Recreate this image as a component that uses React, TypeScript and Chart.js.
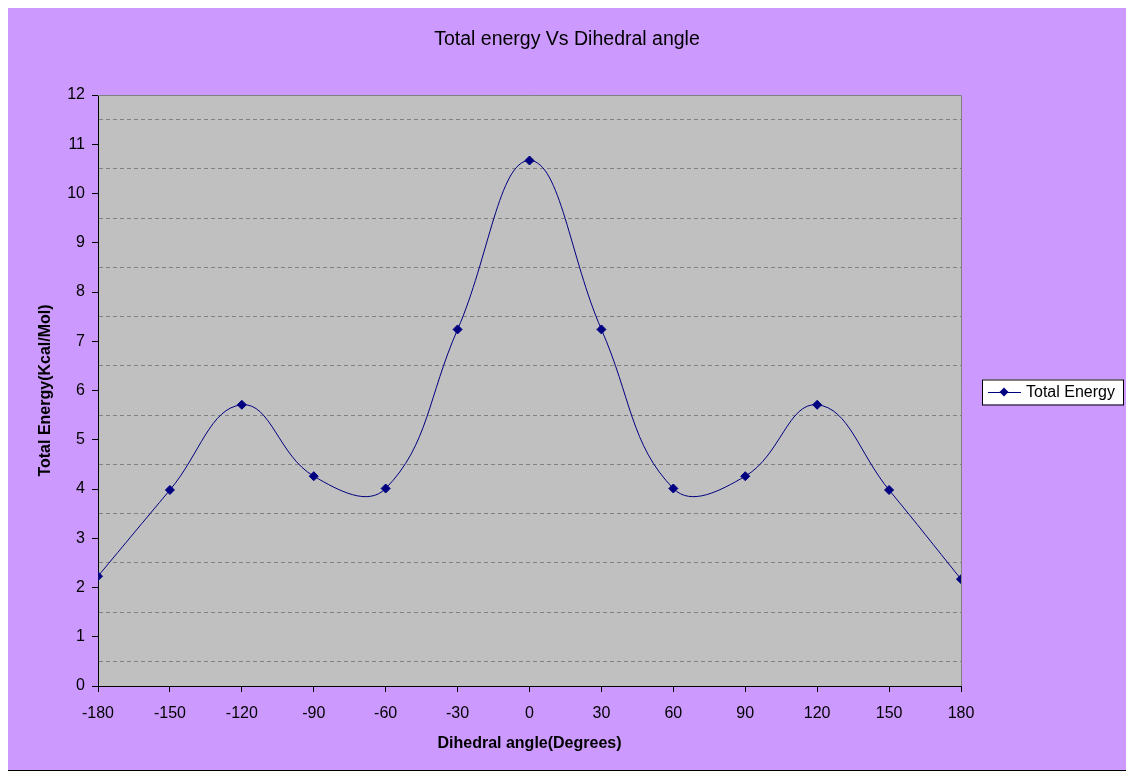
import React, { useEffect, useRef } from 'react';
import { Chart, ChartConfiguration, Plugin, registerables } from 'chart.js';

Chart.register(...registerables);

const angles = [-180, -150, -120, -90, -60, -30, 0, 30, 60, 90, 120, 150, 180];
const totalEnergy = [2.23, 3.98, 5.71, 4.26, 4.01, 7.24, 10.67, 7.24, 4.01, 4.26, 5.71, 3.98, 2.17];
const seriesLabel = 'Total Energy';
const chartTitle = 'Total energy Vs Dihedral angle';
const xTitle = 'Dihedral angle(Degrees)';
const yTitle = 'Total Energy(Kcal/Mol)';

const FONT = 'Arial, "Liberation Sans", sans-serif';
const NAVY = '#000080';

// grey plot area + grey frame on top/right, like Excel
const plotArea: Plugin = {
  id: 'plotArea',
  beforeDraw(chart) {
    const { ctx, chartArea: a } = chart;
    ctx.save();
    ctx.fillStyle = '#C0C0C0';
    ctx.fillRect(a.left, a.top, a.right - a.left, a.bottom - a.top);
    ctx.restore();
  },
  afterDraw(chart) {
    const { ctx, chartArea: a } = chart;
    ctx.save();
    ctx.strokeStyle = '#808080';
    ctx.lineWidth = 1;
    ctx.beginPath();
    ctx.moveTo(a.left, Math.round(a.top) + 0.5);
    ctx.lineTo(Math.round(a.right) + 0.5, Math.round(a.top) + 0.5);
    ctx.lineTo(Math.round(a.right) + 0.5, a.bottom);
    ctx.stroke();
    ctx.restore();
  },
};

// boxed legend on the right
const boxLegend: Plugin = {
  id: 'boxLegend',
  afterDraw(chart) {
    const { ctx, chartArea: a } = chart;
    const ds = chart.data.datasets[0];
    const x = Math.round(a.right) + 21;
    const cy = Math.round((a.top + a.bottom) / 2) + 1;
    const w = 141;
    const h = 25;
    ctx.save();
    ctx.fillStyle = '#ffffff';
    ctx.fillRect(x, cy - h / 2, w, h);
    ctx.strokeStyle = '#000000';
    ctx.lineWidth = 1;
    ctx.strokeRect(x + 0.5, cy - h / 2 + 0.5, w, h);
    ctx.strokeStyle = NAVY;
    ctx.beginPath();
    ctx.moveTo(x + 6, cy + 0.5);
    ctx.lineTo(x + 39, cy + 0.5);
    ctx.stroke();
    ctx.fillStyle = NAVY;
    ctx.beginPath();
    ctx.moveTo(x + 22, cy - 4.5);
    ctx.lineTo(x + 26.5, cy);
    ctx.lineTo(x + 22, cy + 4.5);
    ctx.lineTo(x + 17.5, cy);
    ctx.closePath();
    ctx.fill();
    ctx.fillStyle = '#000000';
    ctx.font = `16px ${FONT}`;
    ctx.textBaseline = 'middle';
    ctx.fillText(String(ds.label), x + 44, cy + 1);
    ctx.restore();
  },
};

const App: React.FC = () => {
  const canvasRef = useRef<HTMLCanvasElement>(null);
  const chartRef = useRef<Chart | null>(null);

  useEffect(() => {
    if (!canvasRef.current) return;
    const ctx = canvasRef.current.getContext('2d');
    if (!ctx) return;

    const config: ChartConfiguration = {
      type: 'line',
      data: {
        datasets: [{
          label: seriesLabel,
          data: angles.map((a, i) => ({ x: a, y: totalEnergy[i] })),
          borderColor: NAVY,
          backgroundColor: NAVY,
          borderWidth: 1,
          tension: 0.42,
          pointStyle: 'rectRot',
          pointRadius: 4.5,
          pointBackgroundColor: NAVY,
          pointBorderColor: NAVY,
          pointBorderWidth: 1,
        }],
      },
      options: {
        animation: false,
        responsive: false,
        maintainAspectRatio: false,
        layout: { padding: 0 },
        plugins: {
          legend: { display: false },
          tooltip: { enabled: false },
          title: {
            display: true,
            text: chartTitle,
            color: '#000000',
            font: { family: FONT, size: 19.5, weight: 'normal' },
            padding: { top: 20, bottom: 43.6 },
          },
        },
        scales: {
          x: {
            type: 'linear',
            min: -180,
            max: 180,
            afterFit: (s: any) => { s.height = 84; },
            ticks: {
              stepSize: 30,
              color: '#000000',
              padding: 12,
              font: { family: FONT, size: 16 },
              maxRotation: 0,
            },
            grid: {
              drawOnChartArea: false,
              tickLength: 6,
              tickColor: '#000000',
            },
            border: { display: true, color: '#000000', width: 1 },
            title: {
              display: true,
              text: xTitle,
              color: '#000000',
              font: { family: FONT, size: 16, weight: 'bold' },
              padding: { top: 0, bottom: 17 },
            },
          },
          y: {
            type: 'linear',
            min: 0,
            max: 12,
            afterFit: (s: any) => { s.width = 90; },
            ticks: {
              stepSize: 0.5,
              autoSkip: false,
              color: '#000000',
              padding: 7,
              font: { family: FONT, size: 16 },
              callback: (v: any) => (Number(v) % 1 === 0 ? String(v) : ''),
            },
            grid: {
              color: (c: any) => (c.tick && c.tick.value % 1 !== 0 ? '#808080' : 'rgba(0,0,0,0)'),
              tickColor: (c: any) => (c.tick && c.tick.value % 1 === 0 ? '#000000' : 'rgba(0,0,0,0)'),
              tickLength: 6,
              lineWidth: 1,
            },
            border: { display: true, color: '#000000', width: 1, dash: [4, 3] },
            title: {
              display: true,
              text: yTitle,
              color: '#000000',
              font: { family: FONT, size: 16, weight: 'bold' },
              padding: { top: 28, bottom: 0 },
            },
          },
          yRight: {
            type: 'linear',
            position: 'right',
            display: true,
            afterFit: (s: any) => { s.width = 165; },
            ticks: { display: false },
            grid: { display: false },
            border: { display: false },
          },
        },
      },
      plugins: [plotArea, boxLegend],
    };

    chartRef.current = new Chart(ctx, config);
    return () => {
      chartRef.current?.destroy();
      chartRef.current = null;
    };
  }, []);

  return (
    <div
      style={{
        width: 1120,
        height: 764,
        boxSizing: 'border-box',
        border: '1px solid #000',
        margin: '-1px 0 0 -1px',
        background: '#CC99FF',
      }}
    >
      <canvas ref={canvasRef} width={1118} height={762} style={{ display: 'block', width: 1118, height: 762 }} />
    </div>
  );
};

export default App;
